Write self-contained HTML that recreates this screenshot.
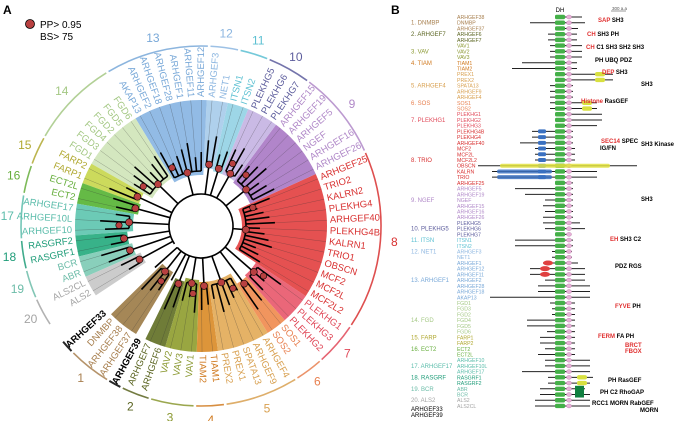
<!DOCTYPE html>
<html><head><meta charset="utf-8">
<style>
body{margin:0;background:#fff;}
svg{display:block;font-family:"Liberation Sans",sans-serif;}
</style></head>
<body>
<svg id="fig" width="688" height="421" viewBox="0 0 688 421" xmlns="http://www.w3.org/2000/svg">
<text x="3" y="14" font-size="12" font-weight="bold">A</text>
<text x="391" y="14" font-size="12" font-weight="bold">B</text>
<g>
<circle cx="30" cy="24" r="4.5" fill="#b84040" stroke="#000" stroke-width="0.8"/>
<text x="40" y="28" font-size="10">PP&gt; 0.95</text>
<text x="40" y="40" font-size="10">BS&gt; 75</text>
</g>
<g id="tree"></g>
<g id="panelb"></g>
</svg>
<script>
const leaves=["ALS2","ALS2CL","ABR","BCR","RASGRF1","RASGRF2","ARHGEF10","ARHGEF10L","ARHGEF17","ECT2","ECT2L","FARP1","FARP2","FGD1","FGD3","FGD4","FGD2","FGD5","FGD6","AKAP13","ARHGEF2","ARHGEF18","ARHGEF28","ARHGEF1","ARHGEF11","ARHGEF12","ARHGEF3","NET1","ITSN1","ITSN2","PLEKHG5","PLEKHG6","PLEKHG7","ARHGEF15","ARHGEF19","ARHGEF5","NGEF","ARHGEF16","ARHGEF26","ARHGEF25","TRIO2","KALRN2","PLEKHG4","ARHGEF40","PLEKHG4B","KALRN1","TRIO1","OBSCN","MCF2","MCF2L","MCF2L2","PLEKHG1","PLEKHG3","PLEKHG2","SOS1","SOS2","ARHGEF4","ARHGEF9","SPATA13","PREX1","PREX2","TIAM1","TIAM2","VAV1","VAV3","VAV2","ARHGEF6","ARHGEF7","ARHGEF39","ARHGEF37","ARHGEF38","DNMBP","ARHGEF33"];
const leafGroup=[20,20,19,19,18,18,17,17,17,16,16,15,15,14,14,14,14,14,14,13,13,13,13,13,13,13,12,12,11,11,10,10,10,9,9,9,9,9,9,8,8,8,8,8,8,8,8,8,8,8,8,7,7,7,6,6,5,5,5,5,5,4,4,3,3,3,2,2,0,1,1,1,0];
const groupIds=[1,2,3,4,5,6,7,8,9,10,11,12,13,14,15,16,17,18,19,20];
const groupNames=["DNMBP","ARHGEF7","VAV","TIAM","ARHGEF4","SOS","PLEKHG1","TRIO","NGEF","PLEKHG5","ITSN","NET1","ARHGEF1","FGD","FARP","ECT2","ARHGEF17","RASGRF","BCR","ALS2"];
const wedgeColors={0:"none",1:"#9b7a45",2:"#5f6e22",3:"#8e9c2c",4:"#d98a25",5:"#e2aa55",6:"#f08a4c",7:"#e8566a",8:"#e23e3e",9:"#a878c4",10:"#c4b2e2",11:"#92d2e4",12:"#a6cbea",13:"#86b4e2",14:"#cfe4b8",15:"#c6d64a",16:"#54b232",17:"#5cc4ae",18:"#22aa7c",19:"#7ccab4",20:"#c6c6c6"};
const textColors={0:"#000",1:"#a88050",2:"#5a6420",3:"#8a9830",4:"#d07a20",5:"#d8a050",6:"#e88050",7:"#e04858",8:"#d83030",9:"#b088c8",10:"#5c5c9c",11:"#5cc0d2",12:"#8cb6e0",13:"#78a8d8",14:"#a4c884",15:"#b0a830",16:"#66ae3c",17:"#5abcaa",18:"#1e9c78",19:"#6cbca8",20:"#a4a4a4"};
const nodeR={0:48,1:58,2:62,3:58,4:60,5:60,6:72,7:70,8:45,9:58,10:60,11:60,12:62,13:55,14:60,15:70,16:68,17:72,18:78,19:75,20:70};

const NS="http://www.w3.org/2000/svg";
const CX=201,CY=226,A0=149,STEP=(498-149)/(leaves.length-1);
function ang(i){return A0+i*STEP;}
function pt(a,r){const t=a*Math.PI/180;return [CX+r*Math.cos(t),CY+r*Math.sin(t)];}
function mk(tag,attrs,parent){const e=document.createElementNS(NS,tag);for(const k in attrs)e.setAttribute(k,attrs[k]);parent.appendChild(e);return e;}
function sector(a0,a1,r0,r1){const p0=pt(a0,r1),p1=pt(a1,r1),p2=pt(a1,r0),p3=pt(a0,r0);const lg=(a1-a0)>180?1:0;
return `M${p0[0]},${p0[1]}A${r1},${r1} 0 ${lg} 1 ${p1[0]},${p1[1]}L${p2[0]},${p2[1]}A${r0},${r0} 0 ${lg} 0 ${p3[0]},${p3[1]}Z`;}
function arcPath(a0,a1,r){const p0=pt(a0,r),p1=pt(a1,r);const lg=(a1-a0)>180?1:0;return `M${p0[0]},${p0[1]}A${r},${r} 0 ${lg} 1 ${p1[0]},${p1[1]}`;}

const tree=document.getElementById('tree');
// group ranges
const ranges={};
leaves.forEach((n,i)=>{const g=leafGroup[i];const key=g===0?'s'+i:g;if(!ranges[key])ranges[key]={g:g,a:i,b:i};ranges[key].b=i;});
// wedges
for(const k in ranges){const R=ranges[k];if(R.g===0)continue;
 const w=mk('path',{d:sector(ang(R.a)-STEP/2,ang(R.b)+STEP/2,nodeR[R.g]-4,126),fill:wedgeColors[R.g],opacity:0.9},tree);
 
 
}
// thin separators
leaves.forEach((n,i)=>{const g=leafGroup[i];if(g===0)return;const p0=pt(ang(i),nodeR[g]+12),p1=pt(ang(i),126);
 mk('line',{x1:p0[0],y1:p0[1],x2:p1[0],y2:p1[1],stroke:"#333","stroke-width":0.35,"stroke-opacity":0.6},tree);});
// inner circle
const ic=mk('path',{d:arcPath(ang(0)-3,ang(leaves.length-1)+0,32),fill:"none",stroke:"#000","stroke-width":1.6},tree);

// branches
for(const k in ranges){const R=ranges[k];const rg=nodeR[R.g];const am=(ang(R.a)+ang(R.b))/2;
 const s0=pt(am,32),s1=pt(am,rg);
 mk('line',{x1:s0[0],y1:s0[1],x2:s1[0],y2:s1[1],stroke:"#000","stroke-width":1.6},tree);
 if(R.b>R.a)mk('path',{d:arcPath(ang(R.a),ang(R.b),rg),fill:"none",stroke:"#000","stroke-width":1.6},tree);
 for(let i=R.a;i<=R.b;i++){const l=rg+14+((i*5)%4)*5;const p0=pt(ang(i),rg),p1=pt(ang(i),l);
  const br=mk('line',{x1:p0[0],y1:p0[1],x2:p1[0],y2:p1[1],stroke:"#000","stroke-width":1.6},tree);
  }
 if(R.g!==0){const d=pt(am,rg);const c=mk('circle',{cx:d[0],cy:d[1],r:3.5,fill:"#b84040",stroke:"#000","stroke-width":0.6},tree);
  
  if(R.b-R.a>=2){const d2=pt(ang(R.a)+STEP/2,rg+10);const c2=mk('circle',{cx:d2[0],cy:d2[1],r:3.2,fill:"#b84040",stroke:"#000","stroke-width":0.6},tree);
   }}
}
// leaf labels
leaves.forEach((n,i)=>{const a=ang(i);const p=pt(a,129);let an=((a%360)+360)%360;const right=(an>270||an<90);
 const t=mk('text',{x:p[0],y:p[1],"font-size":9.5,fill:textColors[leafGroup[i]],"dominant-baseline":"central","text-anchor":right?"start":"end",transform:`rotate(${right?a:a+180} ${p[0]} ${p[1]})`},tree);
 if(leafGroup[i]===0)t.setAttribute('font-weight','bold');
 t.textContent=n;
 
 });
// group arcs + numbers
for(const k in ranges){const R=ranges[k];const a0=ang(R.a)-2,a1=ang(R.b)+2;
 const col=R.g===0?"#000":textColors[R.g];
 const ap=mk('path',{d:arcPath(a0,a1,180),fill:"none",stroke:col,"stroke-width":R.g===0?2:1.6,opacity:0.85},tree);
 
 if(R.g!==0){const p=pt((a0+a1)/2,194);const t=mk('text',{x:p[0],y:p[1],"font-size":12,fill:col,"text-anchor":"middle","dominant-baseline":"central"},tree);
  t.textContent=R.g;}}

// ---------- Panel B ----------
const bGenes=["ARHGEF38","DNMBP","ARHGEF37","ARHGEF6","ARHGEF7","VAV1","VAV2","VAV3","TIAM1","TIAM2","PREX1","PREX2","SPATA13","ARHGEF9","ARHGEF4","SOS1","SOS2","PLEKHG1","PLEKHG2","PLEKHG3","PLEKHG4B","PLEKHG4","ARHGEF40","MCF2","MCF2L","MCF2L2","OBSCN","KALRN","TRIO","ARHGEF25","ARHGEF5","ARHGEF19","NGEF","ARHGEF15","ARHGEF16","ARHGEF26","PLEKHG5","PLEKHG6","PLEKHG7","ITSN1","ITSN2","ARHGEF3","NET1","ARHGEF1","ARHGEF12","ARHGEF11","ARHGEF2","ARHGEF28","ARHGEF18","AKAP13","FGD1","FGD3","FGD2","FGD4","FGD5","FGD6","FARP1","FARP2","ECT2","ECT2L","ARHGEF10","ARHGEF10L","ARHGEF17","RASGRF1","RASGRF2","ABR","BCR","ALS2","ALS2CL"];
const bGroup=[1,1,1,2,2,3,3,3,4,4,5,5,5,5,5,6,6,7,7,7,8,8,8,8,8,8,8,8,8,8,9,9,9,9,9,9,10,10,10,11,11,12,12,13,13,13,13,13,13,13,14,14,14,14,14,14,15,15,16,16,17,17,17,18,18,19,19,20,20];
const bLeft=[-5,-30,-5,-12,-12,-10,-10,-10,-38,-48,-3,-3,-10,-10,-10,-10,-10,-5,-5,-5,-28,-28,-40,-25,-25,-25,-82,-68,-68,-5,-45,-35,-15,-17,-15,-17,-17,-15,-3,-45,-45,-8,-8,-17,-30,-30,-15,-22,-22,-70,-10,-8,-8,-33,-33,-13,-20,-20,-15,-22,-15,-15,-38,-12,-12,-20,-20,-25,-25];
const bRight=[22,25,18,17,17,22,22,22,17,17,53,53,13,13,13,37,37,42,42,37,13,13,13,15,15,15,77,37,37,13,13,13,13,13,13,13,20,25,10,13,13,12,12,18,25,25,25,30,30,30,15,15,15,15,15,15,15,15,15,15,30,30,30,33,30,25,30,30,30];
const familyRow=[1,3,6,8,12,15,18,25,32,37,39,41,46,53,56,58,61,63,65,67];
const annotations=[["SAP",20,"#e03030"],["CH",34,"#e03030"],["CH",47,"#e03030"],["PH",60,"#000"],["DEP",72,"#e03030"],["SH3",84,"#000"],["Histone",101,"#e03030"],["SEC14",141,"#e03030"],["SH3",199,"#000"],["EH",239,"#e03030"],["PDZ",266,"#000"],["FYVE",306,"#e03030"],["FERM",336,"#e03030"],["BRCT",345,"#e03030"],["FBOX",351,"#e03030"],["PH",380,"#000"],["PH",392,"#000"],["RCC1",403,"#000"],["MORN",410,"#000"]];
const annotRest=["SH3","SH3 PH","C1 SH3 SH2 SH3","UBQ PDZ","SH3","","RasGEF","SPEC","","SH3 C2","RGS","PH","FA PH","","","RasGEF","C2 RhoGAP","MORN RabGEF",""];
const annotX=[598,587,586,595,602,641,581,601,641,610,615,615,598,625,625,608,600,592,640];

const pb=document.getElementById('panelb');
const DX=560,Y0=17,RS=5.72;
function ry(i){return Y0+i*RS;}
const h=mk('text',{x:DX,y:12,"font-size":6,"text-anchor":"middle"},pb);h.textContent="DH";

const sb=mk('line',{x1:611,y1:11,x2:626,y2:11,stroke:"#555","stroke-width":0.6},pb);

const sbt=mk('text',{x:612,y:10,"font-size":4.5,fill:"#555"},pb);sbt.textContent="300 a.a";

bGenes.forEach((g,i)=>{const y=ry(i);
 const t=mk('text',{x:457,y:y+2,"font-size":5.2,fill:textColors[bGroup[i]]},pb);t.textContent=g;
 
 const ln=mk('line',{x1:DX+bLeft[i],y1:y,x2:DX+bRight[i],y2:y,stroke:"#222","stroke-width":1},pb);
 
 const dh=mk('rect',{x:DX-5,y:y-2.2,width:10,height:4.4,rx:1.5,fill:"#44b048"},pb);
 
 const ph=mk('ellipse',{cx:DX+9,cy:y,rx:2.6,ry:2,fill:"#e8b0d8",stroke:"#a06090","stroke-width":0.3},pb);
 
 if(bGroup[i]===8&&bLeft[i]<-20){const b=mk('rect',{x:DX-22,y:y-2,width:8,height:4,rx:1.5,fill:"#3a70c0"},pb);
  }
});
// extra domains for a few rows
[[15,22],[16,22],[63,17],[64,17],[10,35],[11,35]].forEach(([i,o])=>{const r=mk('rect',{x:DX+o,y:ry(i)-2.2,width:10,height:4.4,rx:2,fill:"#d8e040"},pb);
 });
[[26,-60,110],[27,-63,55],[28,-63,55]].forEach(([i,o,w])=>{const r=mk('rect',{x:DX+o,y:ry(i)-2,width:w,height:4,rx:2,fill:i===26?"#e0e040":"#3a70c0",opacity:0.85},pb);
 });
[[44,-15],[45,-15],[43,-12]].forEach(([i,o])=>{const r=mk('ellipse',{cx:DX+o,cy:ry(i),rx:5,ry:2.5,fill:"#e04040"},pb);
 });
[[65,15],[66,15]].forEach(([i,o])=>{const r=mk('rect',{x:DX+o,y:ry(i)-3,width:9,height:6,fill:"#108040"},pb);
 });
// family labels
groupIds.forEach((g,k)=>{const t=mk('text',{x:411,y:ry(familyRow[k])+2,"font-size":6,fill:textColors[g]},pb);
 t.textContent=g+". "+groupNames[k];});
[["ARHGEF33",411],["ARHGEF39",417]].forEach(([n,y])=>{const t=mk('text',{x:411,y:y,"font-size":6,fill:"#000"},pb);t.textContent=n;
 });
// annotations
annotations.forEach((a,k)=>{const t=mk('text',{x:annotX[k],y:a[1]+2,"font-size":6,"font-weight":"bold",fill:a[2]},pb);
 const s1=document.createElementNS(NS,'tspan');s1.textContent=a[0]+" ";t.appendChild(s1);
 const s2=document.createElementNS(NS,'tspan');s2.setAttribute('fill','#000');s2.textContent=annotRest[k];t.appendChild(s2);
 });
const ig=mk('text',{x:600,y:150,"font-size":6,"font-weight":"bold"},pb);ig.textContent="IG/FN";

const kn=mk('text',{x:641,y:146,"font-size":6,"font-weight":"bold"},pb);kn.textContent="SH3 Kinase";

</script>
</body></html>
